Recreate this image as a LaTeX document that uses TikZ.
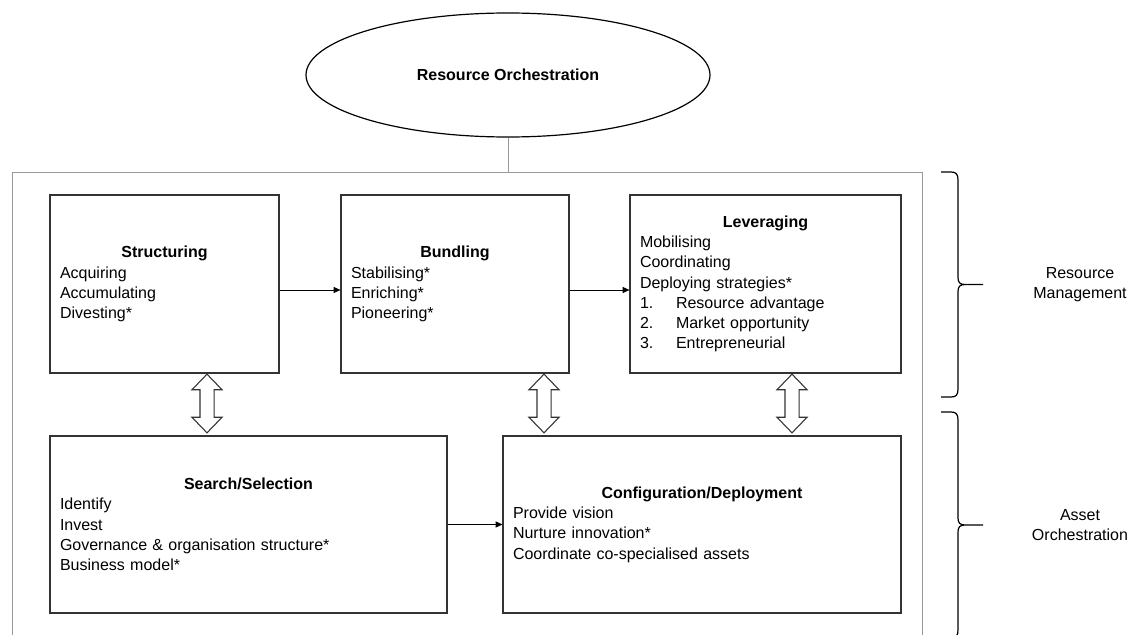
\documentclass[tikz,border=0pt]{standalone}
\usepackage{fontspec}
\setmainfont{Liberation Sans}
\usepackage{tikz}
\usetikzlibrary{arrows.meta,shapes.geometric,shapes.arrows}
\tikzset{>/.tip={Triangle[length=5pt,width=4.5pt]},
  txt/.style={font=\fontsize{12}{15.2}\selectfont},
  stage/.style={txt, draw=black!80, line width=0.9pt, text width=#1, align=left,
    inner xsep=7.5pt, inner ysep=0pt},
  updown/.style={double arrow, draw=black!80, line width=0.8pt, rotate=90,
    minimum height=44pt, inner sep=4.875pt, double arrow head extend=6pt,
    double arrow tip angle=88, double arrow head indent=0pt}}
% curly bracket at the right: x of its ends, top y, bottom y
\newcommand{\sidebrace}[3]{%
  \pgfmathsetmacro\bmid{(#2+#3)/2}
  \draw[line width=0.9pt] (#1,#2) -- (#1+10,#2) .. controls (#1+15,#2) and (#1+17,#2+2) .. (#1+17,#2+8)
    -- (#1+17,\bmid-7) .. controls (#1+17,\bmid-2) and (#1+19,\bmid) .. (#1+24,\bmid) -- (#1+42,\bmid)
    (#1+24,\bmid) .. controls (#1+19,\bmid) and (#1+17,\bmid+2) .. (#1+17,\bmid+7)
    -- (#1+17,#3-8) .. controls (#1+17,#3-2) and (#1+15,#3) .. (#1+10,#3) -- (#1,#3);}

\begin{document}
\begin{tikzpicture}[x=0.75pt, y=-0.75pt]
\useasboundingbox (0,0) rectangle (1131,635);
\node[draw=gray!80, line width=0.6pt, minimum width=682.5pt, minimum height=372pt] (frame) at (467,420) {};
\node[ellipse, draw, line width=0.9pt, minimum width=303pt, minimum height=93pt,
  font=\fontsize{12}{15.2}\selectfont\bfseries] (ro) at (508,75) {Resource Orchestration};
\draw[gray!80, line width=0.6pt] (ro) -- (ro |- frame.north);
\node[stage=156.75pt, minimum height=133.5pt] (strc) at (164.5,284)
  {{\centering\bfseries Structuring\par}Acquiring\\Accumulating\\Divesting*};
\node[stage=156pt, minimum height=133.5pt] (bndl) at (455,284)
  {{\centering\bfseries Bundling\par}Stabilising*\\Enriching*\\Pioneering*};
\node[stage=188.25pt, minimum height=133.5pt] (levr) at (765.5,284)
  {{\centering\bfseries Leveraging\par}Mobilising\\Coordinating\\Deploying strategies*\\
   \makebox[27pt][l]{1.}Resource advantage\\
   \makebox[27pt][l]{2.}Market opportunity\\
   \makebox[27pt][l]{3.}Entrepreneurial};
\node[stage=282.75pt, minimum height=132.75pt] (srch) at (248.5,524.5)
  {{\centering\bfseries Search/Selection\par}Identify\\Invest\\Governance \& organisation structure*\\Business model*};
\node[stage=283.5pt, minimum height=132.75pt] (conf) at (702,524.5)
  {{\centering\bfseries Configuration/Deployment\par}Provide vision\\Nurture innovation*\\Coordinate co-specialised assets};
\draw[->] ([yshift=-4.5pt]strc.east) -- ([yshift=-4.5pt]bndl.west);
\draw[->] ([yshift=-4.5pt]bndl.east) -- ([yshift=-4.5pt]levr.west);
\draw[->] (srch) -- (conf);
\foreach \x/\n in {207/a,544/b,792/c}
{
  \node[updown] (dbl\n) at (\x,403.5) {};
}
\sidebrace{941}{172}{397}
\sidebrace{941}{412}{638}
\node[txt, align=center] (rm) at (1080,285) {Resource\\Management};
\node[txt, align=center] (ao) at (1080,525) {Asset\\Orchestration};
\end{tikzpicture}
\end{document}
